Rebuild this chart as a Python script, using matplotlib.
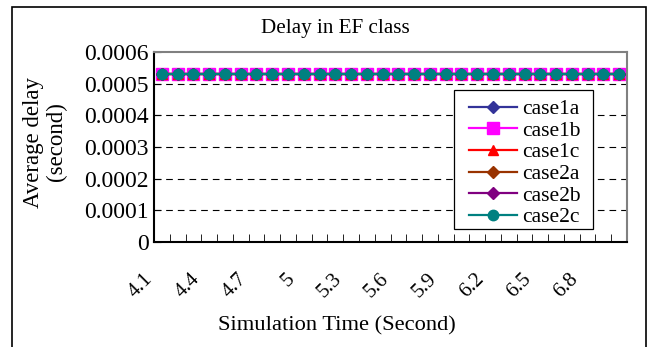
import matplotlib
matplotlib.use("Agg")
import matplotlib.pyplot as plt
import matplotlib.transforms as mtransforms
from matplotlib.patches import Rectangle
import numpy as np

plt.rcParams['font.family'] = ['Liberation Serif', 'DejaVu Serif']

times = [round(4.1 + 0.1 * i, 1) for i in range(30)]
tick_labels = ["4.1", "4.4", "4.7", "5", "5.3", "5.6", "5.9", "6.2", "6.5", "6.8"]
case1a = [0.00053] * 30
case1b = [0.00053] * 30
case1c = [0.00053] * 30
case2a = [0.00053] * 30
case2b = [0.00053] * 30
case2c = [0.00053] * 30

series = [
    ("case1a", case1a, "#333399", "D", 6.0),
    ("case1b", case1b, "#FF00FF", "s", 8.0),
    ("case1c", case1c, "#FF0000", "^", 7.5),
    ("case2a", case2a, "#993300", "D", 6.0),
    ("case2b", case2b, "#800080", "D", 6.0),
    ("case2c", case2c, "#008080", "o", 7.5),
]

W, H = 653, 347
fig = plt.figure(figsize=(W / 100, H / 100), dpi=100)
fig.patches.append(Rectangle((12 / W, -0.05), (646 - 12) / W, 1 - 7 / H + 0.05,
                             transform=fig.transFigure, fill=False,
                             edgecolor="black", linewidth=1.2))

L, R, T, B = 154, 627, 52, 242
ax = fig.add_axes([L / W, 1 - B / H, (R - L) / W, (B - T) / H])

x = np.arange(len(times))
for name, vals, col, mk, ms in series:
    ax.plot(x, vals, color=col, marker=mk, markersize=ms, linewidth=1.6,
            markeredgecolor=col, label=name)

ax.set_xlim(-0.5, len(times) - 0.5)
ax.set_ylim(0, 0.0006)
ax.set_yticks([0, 0.0001, 0.0002, 0.0003, 0.0004, 0.0005, 0.0006])
ax.set_yticklabels(["0", "0.0001", "0.0002", "0.0003", "0.0004", "0.0005", "0.0006"])
ax.tick_params(axis='y', direction='in', length=5, labelsize=17, pad=4)

ax.set_xticks(x[::3])
ax.set_xticklabels(tick_labels)
ax.set_xticks(np.arange(-0.5, len(times), 1.0), minor=True)
ax.tick_params(axis='x', which='major', length=0, labelsize=15, pad=25)
ax.tick_params(axis='x', which='minor', direction='in', length=6)
offset = mtransforms.ScaledTranslation(-12 / 100, 0, fig.dpi_scale_trans)
for lab in ax.get_xticklabels():
    lab.set_rotation(45)
    lab.set_rotation_mode('anchor')
    lab.set_ha('right')
    lab.set_va('center')
    lab.set_transform(lab.get_transform() + offset)

for yv in [0.0001, 0.0002, 0.0003, 0.0004, 0.0005]:
    ax.axhline(yv, color="black", linewidth=0.8, linestyle=(0, (6, 4.5)), zorder=0.5)

for s in ["top", "right"]:
    ax.spines[s].set_color("#808080")
    ax.spines[s].set_linewidth(1.5)
for s in ["left", "bottom"]:
    ax.spines[s].set_color("black")
    ax.spines[s].set_linewidth(1.5)

fig.text(335 / W, 1 - 28 / H, "Delay in EF class", ha="center", va="center", fontsize=15.2)
fig.text(337 / W, 1 - 326 / H, "Simulation Time (Second)", ha="center", va="center", fontsize=16.2)
fig.text(45 / W, 1 - 142 / H, "Average delay\n(second)", ha="center", va="center",
         rotation=90, fontsize=16.5, multialignment="center", linespacing=1.15)

# legend frame (Excel style box)
ax.add_patch(Rectangle((454 / W, 1 - 229 / H), (593 - 454) / W, (229 - 90) / H,
                       transform=fig.transFigure, facecolor="white", clip_on=False,
                       edgecolor="black", linewidth=0.9, zorder=4))
leg = ax.legend(loc="upper left", bbox_to_anchor=(469 / W, 1 - 99 / H),
                bbox_transform=fig.transFigure, borderaxespad=0, fontsize=15.5,
                frameon=False, labelspacing=0.075, borderpad=0.0, handlelength=2.23,
                handletextpad=0.23)
leg.set_zorder(5)

fig.savefig("out.png", dpi=100)
